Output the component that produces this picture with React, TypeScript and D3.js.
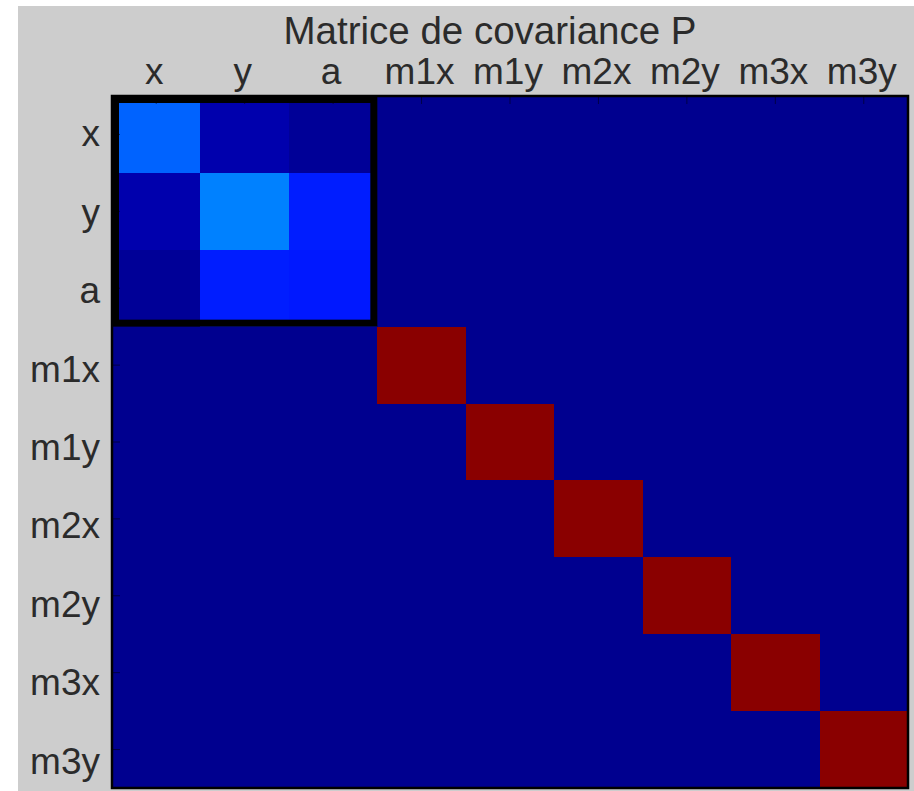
import React, { useRef, useEffect } from 'react';
import * as d3 from 'd3';

// state labels: robot pose then 3 landmarks
const labels = ['x', 'y', 'a', 'm1x', 'm1y', 'm2x', 'm2y', 'm3x', 'm3y'];

// pose block (x, y, a)
const poseCov = [
  [0.21, 0.03, 0.008],
  [0.03, 0.24, 0.14],
  [0.008, 0.14, 0.135],
];

// landmark variances on the diagonal (all at the top of the colour scale)
const landmarkVar = [0.99, 0.99, 0.99, 0.99, 0.99, 0.99];

const title = 'Matrice de covariance P';

const App = () => {
  const container = useRef<HTMLDivElement>(null);

  useEffect(() => {
    const width = 914;
    const height = 791;
    const margin = { top: 96, right: 6, bottom: 3, left: 112 };
    const font = '"Liberation Sans", Arial, sans-serif';

    // full 9x9 matrix built from the blocks
    const n = labels.length;
    const cells: { r: number; c: number; v: number }[] = [];
    for (let r = 0; r < n; r++) {
      for (let c = 0; c < n; c++) {
        let v = 0;
        if (r < 3 && c < 3) v = poseCov[r][c];
        else if (r === c) v = landmarkVar[r - 3];
        cells.push({ r, c, v });
      }
    }

    const x = d3.scaleBand().domain(labels).range([margin.left, width - margin.right]);
    const y = d3.scaleBand().domain(labels).range([margin.top, height - margin.bottom]);

    // matlab jet(64)
    const jet = d3.scaleLinear<string>()
      .domain([0, 7 / 63, 23 / 63, 39 / 63, 55 / 63, 1])
      .range(['#00008f', '#0000ff', '#00ffff', '#ffff00', '#ff0000', '#800000'])
      .interpolate(d3.interpolateRgb)
      .clamp(true);

    const svg = d3.create('svg')
      .attr('width', width)
      .attr('height', height)
      .attr('viewBox', [0, 0, width, height])
      .style('position', 'absolute')
      .style('left', '0px')
      .style('top', '0px')
      .style('font-family', font);

    svg.append('rect')
      .attr('width', width)
      .attr('height', height)
      .attr('fill', '#ffffff');

    svg.append('rect')
      .attr('x', 18)
      .attr('y', 6)
      .attr('width', width - 18)
      .attr('height', height - 6)
      .attr('fill', '#cdcdcd');

    svg.append('g')
      .attr('shape-rendering', 'crispEdges')
      .selectAll('rect')
      .data(cells)
      .join('rect')
      .attr('x', d => Math.round(x(labels[d.c])!))
      .attr('y', d => Math.round(y(labels[d.r])!))
      .attr('width', d => Math.round(x(labels[d.c])! + x.bandwidth()) - Math.round(x(labels[d.c])!))
      .attr('height', d => Math.round(y(labels[d.r])! + y.bandwidth()) - Math.round(y(labels[d.r])!))
      .attr('fill', d => jet(d.v));

    // ticks
    const tickLen = 8;
    svg.append('g')
      .selectAll('line')
      .data(labels)
      .join('line')
      .attr('x1', d => x(d)! + x.bandwidth() / 2)
      .attr('x2', d => x(d)! + x.bandwidth() / 2)
      .attr('y1', margin.top)
      .attr('y2', margin.top + tickLen)
      .attr('stroke', '#000')
      .attr('stroke-opacity', 0.5);
    svg.append('g')
      .selectAll('line')
      .data(labels)
      .join('line')
      .attr('x1', margin.left)
      .attr('x2', margin.left + tickLen)
      .attr('y1', d => y(d)! + y.bandwidth() / 2)
      .attr('y2', d => y(d)! + y.bandwidth() / 2)
      .attr('stroke', '#000')
      .attr('stroke-opacity', 0.5);

    // axes box
    svg.append('rect')
      .attr('x', margin.left)
      .attr('y', margin.top)
      .attr('width', width - margin.right - margin.left)
      .attr('height', height - margin.bottom - margin.top)
      .attr('fill', 'none')
      .attr('stroke', '#000')
      .attr('stroke-width', 2.5);

    // pose block outline
    const inset = 3.5;
    const bx0 = x('x')!;
    const bx1 = x('a')! + x.bandwidth();
    const by0 = y('x')!;
    const by1 = y('a')! + y.bandwidth();
    svg.append('rect')
      .attr('x', bx0 + inset)
      .attr('y', by0 + inset)
      .attr('width', bx1 - bx0 - 2 * inset)
      .attr('height', by1 - by0 - 2 * inset)
      .attr('fill', 'none')
      .attr('stroke', '#000')
      .attr('stroke-width', 7);

    // column labels
    svg.append('g')
      .selectAll('text')
      .data(labels)
      .join('text')
      .attr('x', d => x(d)! + x.bandwidth() / 2 - 2)
      .attr('y', 84)
      .attr('text-anchor', 'middle')
      .attr('font-size', 37)
      .attr('fill', '#2b2b2b')
      .text(d => d);

    // row labels
    svg.append('g')
      .selectAll('text')
      .data(labels)
      .join('text')
      .attr('x', 100)
      .attr('y', (d, i) => y(d)! + y.bandwidth() / 2 + 12 + i * 1.5)
      .attr('text-anchor', 'end')
      .attr('font-size', 37)
      .attr('fill', '#2b2b2b')
      .text(d => d);

    svg.append('text')
      .attr('x', 490)
      .attr('y', 44)
      .attr('text-anchor', 'middle')
      .attr('font-size', 38.5)
      .attr('fill', '#2b2b2b')
      .text(title);

    container.current!.innerHTML = '';
    container.current!.appendChild(svg.node()!);
  }, []);

  return <div ref={container} style={{ width: '914px', height: '791px' }} />;
};

export default App;
